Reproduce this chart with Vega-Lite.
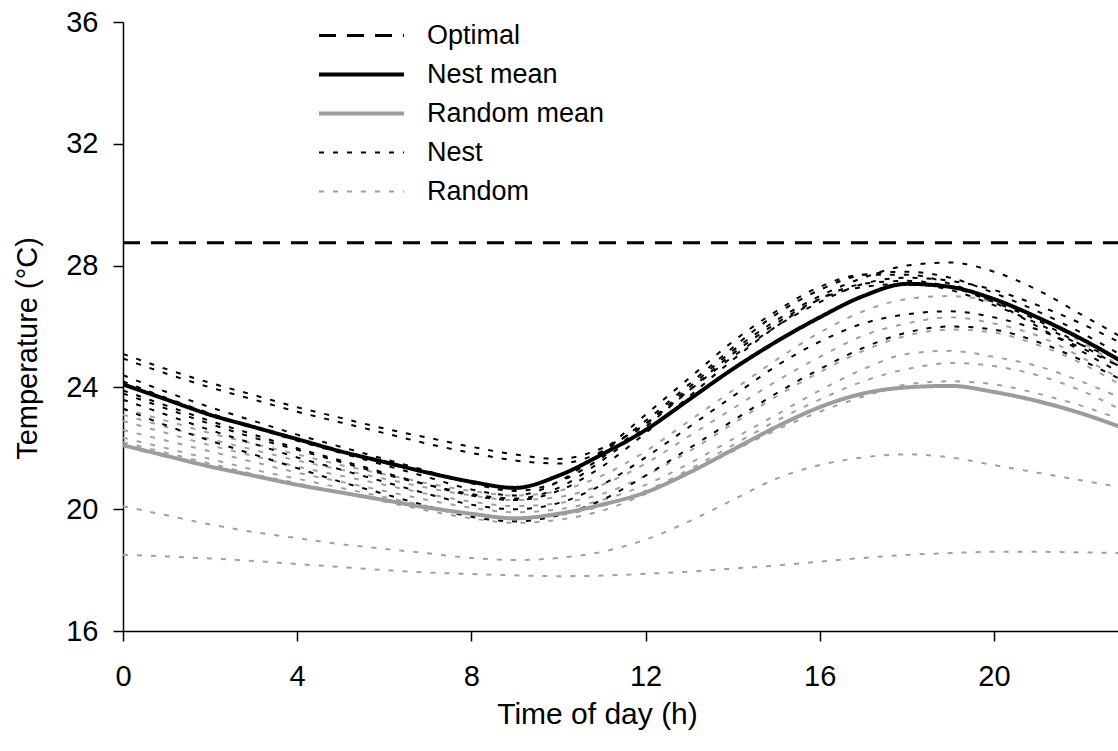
{
  "$schema": "https://vega.github.io/schema/vega-lite/v6.json",
  "width": 995,
  "height": 609,
  "autosize": {"type": "none"},
  "padding": {"left": 123, "top": 22, "right": 0, "bottom": 120},
  "background": "white",
  "config": {
    "view": {"stroke": null},
    "font": "Liberation Sans, Arial, sans-serif",
    "axis": {"grid": false, "domainColor": "#000000", "tickColor": "#000000", "labelColor": "#000000", "titleColor": "#000000", "domainWidth": 1.5, "tickWidth": 1.5, "labelFlush": false, "labelOverlap": false, "titleFontWeight": "normal"},
    "legend": {"labelLimit": 400}
  },
  "datasets": {
    "types": [
      {"key": "R1", "type": "Random"}, {"key": "R2", "type": "Random"}, {"key": "R3", "type": "Random"}, {"key": "R4", "type": "Random"},
      {"key": "R5", "type": "Random"}, {"key": "R6", "type": "Random"}, {"key": "R7", "type": "Random"}, {"key": "R8", "type": "Random"},
      {"key": "N1", "type": "Nest"}, {"key": "N2", "type": "Nest"}, {"key": "N3", "type": "Nest"}, {"key": "N4", "type": "Nest"},
      {"key": "N5", "type": "Nest"}, {"key": "N6", "type": "Nest"}, {"key": "N7", "type": "Nest"}, {"key": "N8", "type": "Nest"},
      {"key": "RM", "type": "Random mean"}, {"key": "NM", "type": "Nest mean"}, {"key": "OPT", "type": "Optimal"}
    ]
  },
  "data": {"values": [
    {"h": 0, "R1": 23.3, "R2": 23.1, "R3": 22.9, "R4": 22.6, "R5": 22.35, "R6": 22.2, "R7": 20.1, "R8": 18.5, "N1": 25.1, "N2": 24.95, "N3": 24.4, "N4": 24.2, "N5": 23.9, "N6": 23.6, "N7": 23.3, "N8": 23.8, "RM": 22.1, "NM": 24.1, "OPT": 28.75},
    {"h": 1, "R1": 22.9, "R2": 22.7, "R3": 22.5, "R4": 22.25, "R5": 22.0, "R6": 21.85, "R7": 19.8, "R8": 18.45, "N1": 24.6, "N2": 24.45, "N3": 23.85, "N4": 23.65, "N5": 23.4, "N6": 23.1, "N7": 22.75, "N8": 23.3, "RM": 21.75, "NM": 23.6, "OPT": 28.75},
    {"h": 2, "R1": 22.5, "R2": 22.3, "R3": 22.1, "R4": 21.9, "R5": 21.65, "R6": 21.5, "R7": 19.5, "R8": 18.38, "N1": 24.15, "N2": 24.0, "N3": 23.35, "N4": 23.15, "N5": 22.9, "N6": 22.6, "N7": 22.25, "N8": 22.8, "RM": 21.4, "NM": 23.1, "OPT": 28.75},
    {"h": 3, "R1": 22.15, "R2": 21.95, "R3": 21.75, "R4": 21.55, "R5": 21.3, "R6": 21.15, "R7": 19.25, "R8": 18.3, "N1": 23.75, "N2": 23.6, "N3": 22.9, "N4": 22.7, "N5": 22.45, "N6": 22.15, "N7": 21.8, "N8": 22.35, "RM": 21.1, "NM": 22.7, "OPT": 28.75},
    {"h": 4, "R1": 21.8, "R2": 21.6, "R3": 21.4, "R4": 21.2, "R5": 21.0, "R6": 20.85, "R7": 19.05, "R8": 18.2, "N1": 23.35, "N2": 23.2, "N3": 22.45, "N4": 22.25, "N5": 22.0, "N6": 21.7, "N7": 21.35, "N8": 21.95, "RM": 20.8, "NM": 22.3, "OPT": 28.75},
    {"h": 5, "R1": 21.45, "R2": 21.3, "R3": 21.1, "R4": 20.9, "R5": 20.7, "R6": 20.55, "R7": 18.85, "R8": 18.1, "N1": 23.0, "N2": 22.85, "N3": 22.05, "N4": 21.85, "N5": 21.6, "N6": 21.3, "N7": 20.9, "N8": 21.55, "RM": 20.55, "NM": 21.9, "OPT": 28.75},
    {"h": 6, "R1": 21.15, "R2": 21.0, "R3": 20.8, "R4": 20.6, "R5": 20.4, "R6": 20.25, "R7": 18.7, "R8": 18.0, "N1": 22.65, "N2": 22.5, "N3": 21.65, "N4": 21.45, "N5": 21.2, "N6": 20.9, "N7": 20.5, "N8": 21.15, "RM": 20.3, "NM": 21.55, "OPT": 28.75},
    {"h": 7, "R1": 20.85, "R2": 20.7, "R3": 20.5, "R4": 20.3, "R5": 20.1, "R6": 19.95, "R7": 18.55, "R8": 17.92, "N1": 22.35, "N2": 22.15, "N3": 21.25, "N4": 21.05, "N5": 20.8, "N6": 20.5, "N7": 20.1, "N8": 20.8, "RM": 20.05, "NM": 21.2, "OPT": 28.75},
    {"h": 8, "R1": 20.6, "R2": 20.45, "R3": 20.25, "R4": 20.05, "R5": 19.85, "R6": 19.7, "R7": 18.4, "R8": 17.87, "N1": 22.05, "N2": 21.85, "N3": 20.85, "N4": 20.65, "N5": 20.45, "N6": 20.15, "N7": 19.75, "N8": 20.5, "RM": 19.85, "NM": 20.9, "OPT": 28.75},
    {"h": 9, "R1": 20.45, "R2": 20.3, "R3": 20.1, "R4": 19.9, "R5": 19.7, "R6": 19.55, "R7": 18.33, "R8": 17.83, "N1": 21.8, "N2": 21.6, "N3": 20.6, "N4": 20.45, "N5": 20.3, "N6": 20.0, "N7": 19.6, "N8": 20.35, "RM": 19.7, "NM": 20.7, "OPT": 28.75},
    {"h": 10, "R1": 20.6, "R2": 20.4, "R3": 20.2, "R4": 20.0, "R5": 19.8, "R6": 19.65, "R7": 18.4, "R8": 17.8, "N1": 21.65, "N2": 21.5, "N3": 20.9, "N4": 20.9, "N5": 20.6, "N6": 20.2, "N7": 19.8, "N8": 20.7, "RM": 19.85, "NM": 21.1, "OPT": 28.75},
    {"h": 11, "R1": 21.1, "R2": 20.8, "R3": 20.5, "R4": 20.3, "R5": 20.1, "R6": 19.95, "R7": 18.6, "R8": 17.82, "N1": 22.0, "N2": 21.9, "N3": 21.7, "N4": 21.9, "N5": 21.4, "N6": 20.8, "N7": 20.3, "N8": 21.6, "RM": 20.15, "NM": 21.8, "OPT": 28.75},
    {"h": 12, "R1": 21.9, "R2": 21.5, "R3": 21.1, "R4": 20.8, "R5": 20.6, "R6": 20.5, "R7": 19.0, "R8": 17.88, "N1": 22.8, "N2": 22.9, "N3": 22.8, "N4": 23.1, "N5": 22.5, "N6": 21.7, "N7": 21.1, "N8": 22.7, "RM": 20.55, "NM": 22.6, "OPT": 28.75},
    {"h": 13, "R1": 22.9, "R2": 22.4, "R3": 21.9, "R4": 21.5, "R5": 21.3, "R6": 21.2, "R7": 19.6, "R8": 17.95, "N1": 23.9, "N2": 24.1, "N3": 24.0, "N4": 24.3, "N5": 23.7, "N6": 22.7, "N7": 22.0, "N8": 23.9, "RM": 21.2, "NM": 23.6, "OPT": 28.75},
    {"h": 14, "R1": 23.9, "R2": 23.3, "R3": 22.8, "R4": 22.3, "R5": 22.1, "R6": 21.9, "R7": 20.3, "R8": 18.05, "N1": 25.0, "N2": 25.3, "N3": 25.2, "N4": 25.5, "N5": 24.9, "N6": 23.7, "N7": 22.9, "N8": 25.1, "RM": 21.95, "NM": 24.6, "OPT": 28.75},
    {"h": 15, "R1": 24.9, "R2": 24.2, "R3": 23.7, "R4": 23.1, "R5": 22.9, "R6": 22.6, "R7": 21.0, "R8": 18.15, "N1": 26.0, "N2": 26.4, "N3": 26.2, "N4": 26.5, "N5": 26.0, "N6": 24.7, "N7": 23.8, "N8": 26.1, "RM": 22.7, "NM": 25.5, "OPT": 28.75},
    {"h": 16, "R1": 25.8, "R2": 25.0, "R3": 24.5, "R4": 23.9, "R5": 23.6, "R6": 23.2, "R7": 21.45, "R8": 18.28, "N1": 26.8, "N2": 27.2, "N3": 27.0, "N4": 27.3, "N5": 26.9, "N6": 25.5, "N7": 24.6, "N8": 26.9, "RM": 23.35, "NM": 26.3, "OPT": 28.75},
    {"h": 17, "R1": 26.5, "R2": 25.7, "R3": 25.2, "R4": 24.6, "R5": 24.2, "R6": 23.7, "R7": 21.7, "R8": 18.4, "N1": 27.4, "N2": 27.7, "N3": 27.6, "N4": 27.7, "N5": 27.4, "N6": 26.1, "N7": 25.3, "N8": 27.3, "RM": 23.8, "NM": 27.0, "OPT": 28.75},
    {"h": 18, "R1": 26.9, "R2": 26.1, "R3": 25.7, "R4": 25.1, "R5": 24.6, "R6": 24.1, "R7": 21.8, "R8": 18.5, "N1": 27.6, "N2": 27.8, "N3": 28.0, "N4": 27.7, "N5": 27.5, "N6": 26.4, "N7": 25.8, "N8": 27.4, "RM": 24.0, "NM": 27.4, "OPT": 28.75},
    {"h": 19, "R1": 27.0, "R2": 26.3, "R3": 25.9, "R4": 25.2, "R5": 24.8, "R6": 24.2, "R7": 21.7, "R8": 18.56, "N1": 27.5, "N2": 27.6, "N3": 28.1, "N4": 27.4, "N5": 27.3, "N6": 26.5, "N7": 26.0, "N8": 27.2, "RM": 24.05, "NM": 27.3, "OPT": 28.75},
    {"h": 20, "R1": 26.8, "R2": 26.1, "R3": 25.8, "R4": 25.0, "R5": 24.7, "R6": 24.1, "R7": 21.45, "R8": 18.6, "N1": 27.2, "N2": 27.1, "N3": 27.8, "N4": 26.8, "N5": 26.8, "N6": 26.3, "N7": 25.9, "N8": 26.7, "RM": 23.85, "NM": 26.9, "OPT": 28.75},
    {"h": 21, "R1": 26.3, "R2": 25.7, "R3": 25.4, "R4": 24.7, "R5": 24.4, "R6": 23.8, "R7": 21.2, "R8": 18.6, "N1": 26.7, "N2": 26.5, "N3": 27.2, "N4": 26.0, "N5": 26.2, "N6": 25.9, "N7": 25.5, "N8": 26.1, "RM": 23.55, "NM": 26.3, "OPT": 28.75},
    {"h": 22, "R1": 25.5, "R2": 25.0, "R3": 24.8, "R4": 24.2, "R5": 23.9, "R6": 23.4, "R7": 20.95, "R8": 18.58, "N1": 26.1, "N2": 25.8, "N3": 26.4, "N4": 25.2, "N5": 25.4, "N6": 25.3, "N7": 24.9, "N8": 25.4, "RM": 23.15, "NM": 25.6, "OPT": 28.75},
    {"h": 23, "R1": 24.6, "R2": 24.2, "R3": 24.0, "R4": 23.6, "R5": 23.2, "R6": 22.9, "R7": 20.7, "R8": 18.56, "N1": 25.4, "N2": 25.0, "N3": 25.6, "N4": 24.4, "N5": 24.6, "N6": 24.6, "N7": 24.2, "N8": 24.9, "RM": 22.65, "NM": 24.8, "OPT": 28.75}
  ]},
  "transform": [
    {"fold": ["R1", "R2", "R3", "R4", "R5", "R6", "R7", "R8", "N1", "N2", "N3", "N4", "N5", "N6", "N7", "N8", "RM", "NM", "OPT"], "as": ["key", "t"]},
    {"lookup": "key", "from": {"data": {"name": "types"}, "key": "key", "fields": ["type"]}}
  ],
  "encoding": {
    "x": {
      "field": "h", "type": "quantitative",
      "scale": {"domain": [0, 22.85], "nice": false, "zero": false},
      "axis": {"values": [0, 4, 8, 12, 16, 20], "tickSize": 10, "labelPadding": 21, "labelFontSize": 29, "title": "Time of day (h)", "titleFontSize": 30, "titleX": 474, "titleY": 92, "titleAlign": "center", "titleBaseline": "alphabetic"}
    },
    "y": {
      "field": "t", "type": "quantitative",
      "scale": {"domain": [16, 36], "nice": false, "zero": false},
      "axis": {"values": [16, 20, 24, 28, 32, 36], "tickSize": 10, "labelPadding": 15, "labelFontSize": 29, "title": "Temperature (°C)", "titleFontSize": 29, "titleX": -96, "titleY": 326, "titleAngle": -90, "titleAlign": "center", "titleBaseline": "middle"}
    },
    "color": {
      "field": "type", "type": "nominal",
      "scale": {"domain": ["Optimal", "Nest mean", "Random mean", "Nest", "Random"], "range": ["#000000", "#000000", "#9c9c9c", "#000000", "#a0a0a0"]},
      "legend": {"title": null, "orient": "none", "legendX": 194, "legendY": -6, "symbolType": "stroke", "symbolSize": 7225, "labelFontSize": 27, "labelOffset": 21, "labelColor": "#000000", "labelLimit": 400, "clipHeight": 39, "rowPadding": 0}
    },
    "strokeDash": {
      "field": "type", "type": "nominal",
      "scale": {"domain": ["Optimal", "Nest mean", "Random mean", "Nest", "Random"], "range": [[17, 11], [1, 0], [1, 0], [5, 9], [5, 9]]},
      "legend": {"title": null, "orient": "none", "legendX": 194, "legendY": -6, "symbolType": "stroke", "symbolSize": 7225, "labelFontSize": 27, "labelOffset": 21, "labelColor": "#000000", "labelLimit": 400, "clipHeight": 39, "rowPadding": 0}
    },
    "strokeWidth": {
      "field": "type", "type": "nominal",
      "scale": {"type": "ordinal", "domain": ["Optimal", "Nest mean", "Random mean", "Nest", "Random"], "range": [3, 4, 4, 2, 2]},
      "legend": {"title": null, "orient": "none", "legendX": 194, "legendY": -6, "symbolType": "stroke", "symbolSize": 7225, "labelFontSize": 27, "labelOffset": 21, "labelColor": "#000000", "labelLimit": 400, "clipHeight": 39, "rowPadding": 0}
    },
    "detail": {"field": "key", "type": "nominal"}
  },
  "layer": [
    {"transform": [{"filter": "datum.type === 'Random'"}], "mark": {"type": "line", "clip": true, "interpolate": "monotone"}},
    {"transform": [{"filter": "datum.type === 'Nest'"}], "mark": {"type": "line", "clip": true, "interpolate": "monotone"}},
    {"transform": [{"filter": "datum.type === 'Random mean'"}], "mark": {"type": "line", "clip": true, "interpolate": "monotone"}},
    {"transform": [{"filter": "datum.type === 'Nest mean'"}], "mark": {"type": "line", "clip": true, "interpolate": "monotone"}},
    {"transform": [{"filter": "datum.type === 'Optimal'"}], "mark": {"type": "line", "clip": true}}
  ]
}
